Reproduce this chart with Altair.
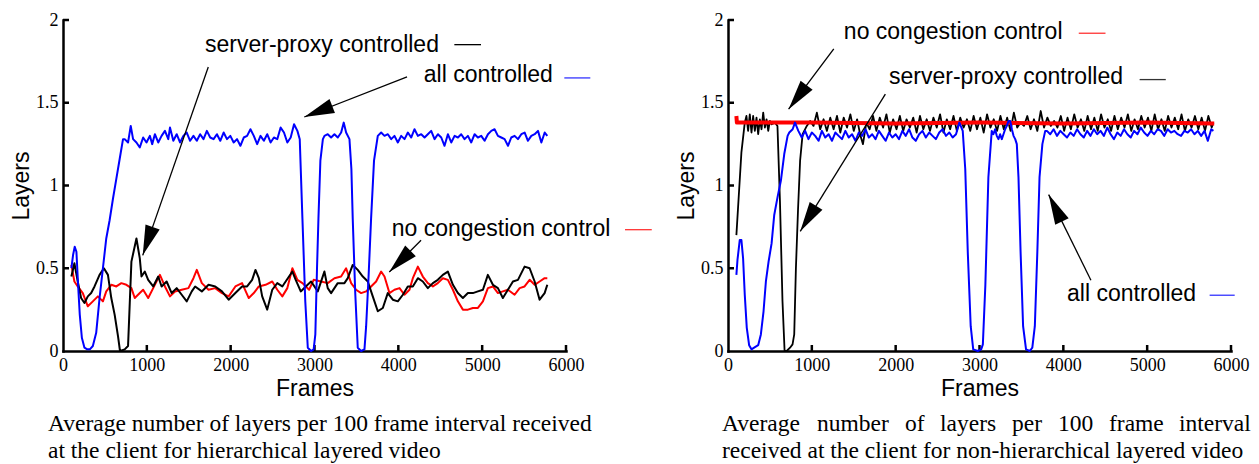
import math
import altair as alt
import pandas as pd

# ---------------- data ----------------
# Left panel: hierarchical layered video
L_BLUE_F = [100, 120, 140, 160, 180, 200, 225, 256, 290, 320,
            356, 396, 436, 476, 516, 556, 596, 636, 676, 716,
            736, 776, 808, 836, 876, 916, 956, 996, 1036, 1064,
            1096, 1136, 1176, 1216, 1256, 1276, 1316, 1356, 1396, 1436,
            1476, 1516, 1556, 1596, 1636, 1676, 1716, 1756, 1796, 1836,
            1876, 1916, 1956, 1996, 2036, 2076, 2116, 2156, 2196, 2236,
            2276, 2316, 2356, 2396, 2436, 2476, 2516, 2556, 2596, 2636,
            2676, 2716, 2756, 2796, 2824, 2856, 2890, 2920, 2960, 2990,
            3010, 3030, 3047, 3070, 3100, 3119, 3158, 3198, 3238, 3278,
            3318, 3349, 3377, 3417, 3440, 3456, 3486, 3516, 3556, 3596,
            3616, 3645, 3675, 3710, 3755, 3795, 3835, 3875, 3915, 3954,
            3994, 4034, 4074, 4114, 4153, 4193, 4233, 4273, 4313, 4352,
            4392, 4432, 4472, 4512, 4551, 4591, 4631, 4671, 4711, 4750,
            4790, 4830, 4870, 4910, 4949, 4989, 5029, 5069, 5109, 5148,
            5188, 5228, 5268, 5308, 5347, 5387, 5427, 5467, 5507, 5546,
            5586, 5626, 5666, 5706, 5746, 5777]
L_BLUE_V = [0.50, 0.58, 0.63, 0.60, 0.40, 0.22, 0.08, 0.02, 0.01, 0.01,
            0.03, 0.11, 0.32, 0.50, 0.68, 0.79, 0.92, 1.04, 1.16, 1.28,
            1.28, 1.26, 1.36, 1.28, 1.26, 1.23, 1.29, 1.26, 1.30, 1.25,
            1.31, 1.26, 1.30, 1.33, 1.28, 1.35, 1.27, 1.31, 1.26, 1.30,
            1.32, 1.27, 1.30, 1.27, 1.31, 1.28, 1.33, 1.29, 1.28, 1.31,
            1.27, 1.32, 1.28, 1.30, 1.26, 1.28, 1.24, 1.29, 1.30, 1.34,
            1.30, 1.25, 1.30, 1.27, 1.31, 1.26, 1.29, 1.28, 1.35, 1.32,
            1.26, 1.29, 1.37, 1.33, 1.28, 0.80, 0.30, 0.02, 0.00, 0.01,
            0.10, 0.50, 0.80, 1.15, 1.28, 1.30, 1.31, 1.29, 1.31, 1.29,
            1.32, 1.38, 1.32, 1.28, 1.10, 0.80, 0.35, 0.02, 0.00, 0.01,
            0.15, 0.45, 0.80, 1.15, 1.30, 1.32, 1.30, 1.31, 1.28, 1.30,
            1.26, 1.30, 1.28, 1.32, 1.29, 1.34, 1.30, 1.31, 1.29, 1.31,
            1.33, 1.28, 1.31, 1.29, 1.24, 1.31, 1.26, 1.30, 1.29, 1.31,
            1.28, 1.30, 1.26, 1.31, 1.29, 1.30, 1.27, 1.31, 1.33, 1.34,
            1.30, 1.29, 1.28, 1.24, 1.29, 1.30, 1.28, 1.31, 1.32, 1.27,
            1.30, 1.31, 1.33, 1.26, 1.32, 1.30]

L_BLACK_F = [100, 136, 176, 216, 256, 296, 336, 376, 436, 488,
             536, 576, 616, 656, 680, 736, 776, 816, 876, 916,
             936, 976, 1016, 1076, 1136, 1176, 1236, 1296, 1356, 1416,
             1476, 1536, 1576, 1656, 1736, 1816, 1896, 1976, 2056, 2136,
             2196, 2256, 2296, 2336, 2376, 2436, 2496, 2556, 2616, 2696,
             2736, 2776, 2836, 2896, 2959, 3039, 3118, 3158, 3198, 3277,
             3357, 3397, 3456, 3516, 3576, 3636, 3695, 3755, 3815, 3874,
             3934, 3994, 4054, 4113, 4173, 4233, 4292, 4352, 4412, 4471,
             4531, 4591, 4651, 4710, 4770, 4830, 4889, 4949, 5009, 5068,
             5128, 5188, 5247, 5307, 5367, 5427, 5506, 5566, 5626, 5685,
             5745, 5777]
L_BLACK_V = [0.45, 0.53, 0.42, 0.32, 0.29, 0.33, 0.35, 0.39, 0.46, 0.50,
             0.46, 0.32, 0.22, 0.09, 0.00, 0.01, 0.03, 0.54, 0.68, 0.56,
             0.45, 0.48, 0.43, 0.39, 0.45, 0.39, 0.42, 0.35, 0.38, 0.34,
             0.30, 0.36, 0.39, 0.36, 0.40, 0.39, 0.36, 0.31, 0.35, 0.39,
             0.39, 0.43, 0.49, 0.44, 0.33, 0.25, 0.37, 0.41, 0.39, 0.45,
             0.48, 0.43, 0.36, 0.39, 0.42, 0.36, 0.48, 0.38, 0.35, 0.41,
             0.41, 0.44, 0.52, 0.49, 0.45, 0.42, 0.33, 0.24, 0.26, 0.35,
             0.31, 0.30, 0.34, 0.39, 0.39, 0.44, 0.42, 0.38, 0.41, 0.43,
             0.46, 0.48, 0.40, 0.35, 0.32, 0.35, 0.35, 0.36, 0.37, 0.46,
             0.40, 0.38, 0.32, 0.37, 0.42, 0.43, 0.51, 0.50, 0.42, 0.31,
             0.35, 0.40]

L_RED_F = [100, 136, 176, 236, 296, 356, 416, 476, 516, 576,
           636, 696, 756, 816, 856, 916, 956, 1016, 1076, 1156,
           1216, 1276, 1336, 1416, 1496, 1556, 1596, 1656, 1736, 1816,
           1896, 1976, 2056, 2136, 2216, 2276, 2336, 2416, 2496, 2556,
           2616, 2676, 2736, 2796, 2856, 2936, 2990, 3078, 3158, 3238,
           3317, 3377, 3437, 3496, 3556, 3616, 3675, 3735, 3795, 3835,
           3894, 3954, 4014, 4073, 4133, 4173, 4233, 4292, 4352, 4412,
           4471, 4531, 4591, 4651, 4710, 4770, 4830, 4889, 4949, 5009,
           5068, 5128, 5188, 5247, 5307, 5387, 5447, 5506, 5566, 5626,
           5685, 5745, 5777]
L_RED_V = [0.52, 0.42, 0.39, 0.35, 0.27, 0.30, 0.33, 0.30, 0.36, 0.40,
           0.39, 0.41, 0.40, 0.38, 0.32, 0.35, 0.37, 0.32, 0.38, 0.46,
           0.39, 0.33, 0.36, 0.37, 0.38, 0.44, 0.49, 0.41, 0.37, 0.38,
           0.35, 0.33, 0.39, 0.41, 0.32, 0.35, 0.39, 0.40, 0.42, 0.37,
           0.33, 0.38, 0.50, 0.43, 0.41, 0.37, 0.43, 0.42, 0.41, 0.44,
           0.45, 0.50, 0.41, 0.37, 0.35, 0.36, 0.39, 0.42, 0.48, 0.45,
           0.35, 0.37, 0.38, 0.34, 0.37, 0.44, 0.51, 0.45, 0.41, 0.39,
           0.41, 0.44, 0.43, 0.37, 0.30, 0.25, 0.25, 0.26, 0.26, 0.30,
           0.38, 0.39, 0.35, 0.36, 0.37, 0.34, 0.38, 0.39, 0.43, 0.40,
           0.42, 0.44, 0.44]

# Right panel: non-hierarchical layered video
R_RED_F = [100, 106, 1000, 2000, 3000, 4000, 5000, 5800]
R_RED_V = [1.42, 1.38, 1.38, 1.375, 1.38, 1.375, 1.38, 1.375]

R_BLACK_F = [100, 130, 160, 200, 220, 240, 260, 280, 300, 320,
             340, 360, 380, 400, 420, 440, 460, 480, 500, 520,
             560, 590, 620, 650, 675, 700, 740, 770, 790, 810,
             835, 860, 890, 940, 980, 1020, 1060, 1100, 1140, 1180,
             1220, 1260, 1300, 1340, 1380, 1420, 1460, 1500, 1540, 1580,
             1610, 1650, 1690, 1730, 1770, 1810, 1850, 1890, 1930, 1970,
             2010, 2050, 2090, 2130, 2170, 2210, 2250, 2290, 2330, 2370,
             2410, 2450, 2490, 2530, 2570, 2610, 2650, 2690, 2730, 2770,
             2810, 2850, 2890, 2930, 2970, 3010, 3050, 3090, 3130, 3170,
             3210, 3250, 3290, 3330, 3370, 3410, 3450, 3490, 3530, 3570,
             3610, 3650, 3690, 3730, 3770, 3810, 3850, 3890, 3930, 3970,
             4010, 4050, 4090, 4130, 4170, 4210, 4250, 4290, 4330, 4370,
             4410, 4450, 4490, 4530, 4570, 4610, 4650, 4690, 4730, 4770,
             4810, 4850, 4890, 4930, 4970, 5010, 5050, 5090, 5130, 5170,
             5210, 5250, 5290, 5330, 5370, 5410, 5450, 5490, 5530, 5570,
             5610, 5650, 5690, 5730, 5770, 5790]
R_BLACK_V = [0.70, 0.95, 1.20, 1.38, 1.42, 1.33, 1.43, 1.32, 1.42, 1.33,
             1.41, 1.31, 1.40, 1.34, 1.44, 1.35, 1.40, 1.33, 1.39, 1.37,
             1.38, 1.36, 0.90, 0.30, 0.00, 0.00, 0.02, 0.04, 0.10, 0.50,
             0.85, 1.15, 1.31, 1.36, 1.39, 1.36, 1.44, 1.34, 1.40, 1.33,
             1.41, 1.34, 1.42, 1.32, 1.41, 1.35, 1.43, 1.33, 1.40, 1.30,
             1.25, 1.38, 1.34, 1.42, 1.33, 1.41, 1.35, 1.43, 1.32, 1.40,
             1.34, 1.42, 1.33, 1.40, 1.35, 1.41, 1.32, 1.42, 1.34, 1.40,
             1.33, 1.41, 1.35, 1.43, 1.32, 1.40, 1.34, 1.42, 1.33, 1.41,
             1.35, 1.40, 1.33, 1.42, 1.34, 1.41, 1.32, 1.43, 1.35, 1.40,
             1.33, 1.42, 1.34, 1.41, 1.33, 1.44, 1.35, 1.38, 1.36, 1.42,
             1.34, 1.40, 1.33, 1.45, 1.35, 1.41, 1.36, 1.39, 1.35, 1.42,
             1.33, 1.41, 1.34, 1.43, 1.35, 1.40, 1.33, 1.42, 1.34, 1.41,
             1.33, 1.43, 1.35, 1.40, 1.33, 1.42, 1.34, 1.41, 1.35, 1.43,
             1.33, 1.40, 1.34, 1.42, 1.35, 1.41, 1.33, 1.43, 1.34, 1.40,
             1.33, 1.42, 1.35, 1.41, 1.34, 1.43, 1.33, 1.40, 1.35, 1.42,
             1.34, 1.41, 1.33, 1.42, 1.35, 1.38]

R_BLUE_F = [100, 113, 140, 160, 180, 200, 224, 252, 280, 312,
            360, 392, 424, 452, 484, 520, 551, 591, 631, 671,
            711, 731, 771, 799, 839, 880, 920, 960, 1000, 1040,
            1080, 1120, 1160, 1200, 1240, 1280, 1320, 1360, 1400, 1440,
            1480, 1520, 1560, 1600, 1640, 1680, 1720, 1760, 1800, 1840,
            1880, 1920, 1960, 2000, 2040, 2080, 2120, 2160, 2200, 2240,
            2280, 2320, 2360, 2400, 2440, 2480, 2520, 2560, 2600, 2640,
            2680, 2720, 2760, 2800, 2830, 2860, 2895, 2925, 2980, 3020,
            3040, 3070, 3106, 3146, 3166, 3186, 3206, 3226, 3246, 3266,
            3286, 3306, 3326, 3346, 3366, 3386, 3406, 3426, 3445, 3465,
            3490, 3520, 3555, 3600, 3630, 3660, 3690, 3716, 3750, 3784,
            3804, 3844, 3884, 3924, 3964, 4004, 4044, 4084, 4124, 4164,
            4204, 4244, 4284, 4324, 4364, 4404, 4444, 4484, 4524, 4564,
            4604, 4644, 4684, 4724, 4764, 4804, 4844, 4884, 4924, 4964,
            5004, 5044, 5084, 5124, 5164, 5204, 5244, 5284, 5324, 5364,
            5404, 5444, 5484, 5524, 5564, 5604, 5644, 5684, 5724, 5764,
            5790]
R_BLUE_V = [0.46, 0.55, 0.67, 0.67, 0.56, 0.34, 0.14, 0.035, 0.01, 0.02,
            0.035, 0.10, 0.24, 0.42, 0.54, 0.65, 0.82, 0.93, 1.03, 1.19,
            1.30, 1.32, 1.34, 1.38, 1.33, 1.29, 1.33, 1.28, 1.32, 1.30,
            1.27, 1.33, 1.29, 1.31, 1.27, 1.32, 1.30, 1.28, 1.33, 1.29,
            1.31, 1.27, 1.32, 1.30, 1.34, 1.29, 1.31, 1.28, 1.33, 1.30,
            1.27, 1.32, 1.29, 1.31, 1.28, 1.33, 1.30, 1.34, 1.29, 1.27,
            1.31, 1.33, 1.29, 1.32, 1.30, 1.28, 1.32, 1.34, 1.30, 1.32,
            1.29, 1.31, 1.38, 1.33, 1.10, 0.60, 0.15, 0.01, 0.00, 0.01,
            0.04, 0.40, 1.05, 1.33, 1.31, 1.34, 1.30, 1.28, 1.31, 1.28,
            1.31, 1.34, 1.36, 1.39, 1.39, 1.34, 1.30, 1.28, 1.25, 1.05,
            0.60, 0.15, 0.01, 0.00, 0.02, 0.15, 0.60, 1.05, 1.25, 1.33,
            1.33, 1.31, 1.34, 1.30, 1.33, 1.31, 1.29, 1.32, 1.30, 1.34,
            1.31, 1.29, 1.33, 1.30, 1.34, 1.31, 1.33, 1.30, 1.35, 1.31,
            1.28, 1.32, 1.30, 1.34, 1.31, 1.29, 1.33, 1.31, 1.35, 1.32,
            1.30, 1.33, 1.31, 1.34, 1.33, 1.30, 1.34, 1.32, 1.33, 1.31,
            1.30, 1.33, 1.32, 1.34, 1.31, 1.33, 1.30, 1.33, 1.27, 1.34,
            1.33]

# Axis ticks
X_TICK_VALUES = [0, 1000, 2000, 3000, 4000, 5000, 6000]
Y_TICK_VALUES = [0, 0.5, 1, 1.5, 2]

# Annotation labels (data units: frames, layers)
L_NOTE_TEXT = ["server-proxy controlled", "all controlled", "no congestion control"]
L_NOTE_F = [1694, 4303, 3921]
L_NOTE_V = [1.849, 1.668, 0.739]
L_KEY_F1 = [4668, 5980, 6704]
L_KEY_F2 = [4986, 6290, 7023]
L_KEY_V = [1.851, 1.650, 0.733]
L_KEY_COLOR = ["black", "#3333ff", "#ff3333"]
L_ARROW_F1 = [1733, 4104, 4271]
L_ARROW_V1 = [1.716, 1.656, 0.669]
L_ARROW_F2 = [951, 2878, 3892]
L_ARROW_V2 = [0.578, 1.414, 0.477]

R_NOTE_TEXT = ["no congestion control", "server-proxy controlled", "all controlled"]
R_NOTE_F = [1382, 1921, 4044]
R_NOTE_V = [1.927, 1.654, 0.343]
R_KEY_F1 = [4184, 4910, 5745]
R_KEY_F2 = [4503, 5222, 6044]
R_KEY_V = [1.920, 1.640, 0.337]
R_KEY_COLOR = ["#ff3333", "#333333", "#3333ff"]
R_ARROW_F1 = [1262, 1877, 4329]
R_ARROW_V1 = [1.825, 1.552, 0.428]
R_ARROW_F2 = [723, 862, 3825]
R_ARROW_V2 = [1.461, 0.723, 0.945]

# Captions
L_CAPTION = ["Average number of layers per 100 frame interval received",
             "at the client for hierarchical layered video"]
R_CAPTION_WORDS = ["Average", "number", "of", "layers", "per", "100", "frame", "interval"]
R_CAPTION_LINE2 = "received at the client for non-hierarchical layered video"

# ---------------- layout / style ----------------
W, H = 503, 331
X_MAX, Y_MAX = 6000, 2
SPACING = 162
SANS = "Liberation Sans"
SERIF = "Liberation Serif"
TICK_LEN = 6
CAP_SIZE = 23.5
NOTE_SIZE = 23
CAP_Y = [411, 438]              # baselines, px below plot top
L_CAP_X = -15                   # px from plot left
R_CAP_WORD_X = [-6, 89, 177, 212, 284, 330, 381, 451]
ARROW_PATH = "M0,0L-0.5,2L0.5,2Z"

X_SCALE = alt.Scale(domain=[0, X_MAX], nice=False, zero=False)
Y_SCALE = alt.Scale(domain=[0, Y_MAX], nice=False, zero=False)
AXIS_COMMON = dict(grid=False, ticks=False, domainColor="black", domainWidth=2.5,
                   domainCap="square", labelFont=SERIF, labelFontSize=18,
                   labelColor="black", labelFlush=False, labelOverlap=False,
                   titleFont=SANS, titleFontSize=23, titleFontWeight="normal",
                   titleColor="black")
X_AXIS = alt.Axis(title="Frames", values=X_TICK_VALUES, format="d",
                  labelPadding=5, titlePadding=3, **AXIS_COMMON)
Y_AXIS = alt.Axis(title="Layers", values=Y_TICK_VALUES, format="~g",
                  labelPadding=5, titlePadding=2, **AXIS_COMMON)


def X(field="frame"):
    return alt.X(f"{field}:Q", scale=X_SCALE, axis=X_AXIS)


def Y(field="layers"):
    return alt.Y(f"{field}:Q", scale=Y_SCALE, axis=Y_AXIS)


def px_to_frame(px):
    return px * X_MAX / W


def px_to_layers(py):
    return Y_MAX - py * Y_MAX / H


def arrow_angle(f1, v1, f2, v2):
    dx = (f2 - f1) * W / X_MAX
    dy = -(v2 - v1) * H / Y_MAX
    return math.degrees(math.atan2(dx, -dy)) % 360


def panel(series, note_text, note_f, note_v, key_f1, key_f2, key_v, key_color,
          af1, av1, af2, av2, caption_df):
    layers = []
    xt = pd.DataFrame({"frame": X_TICK_VALUES[1:]})
    layers.append(alt.Chart(xt).mark_rule(color="black", strokeWidth=2.5).encode(
        x=X(), y=alt.value(H), y2=alt.value(H - TICK_LEN)))
    yt = pd.DataFrame({"layers": Y_TICK_VALUES[1:]})
    layers.append(alt.Chart(yt).mark_rule(color="black", strokeWidth=2.5).encode(
        y=Y(), x=alt.value(0), x2=alt.value(TICK_LEN)))
    for f, v, color, sw in series:
        df = pd.DataFrame({"frame": f, "layers": v})
        layers.append(alt.Chart(df).mark_line(color=color, strokeWidth=sw,
                                              strokeJoin="round").encode(x=X(), y=Y()))
    notes = pd.DataFrame({"label": note_text, "frame": note_f, "layers": note_v})
    layers.append(alt.Chart(notes).mark_text(align="left", baseline="middle", font=SANS,
                                             fontSize=NOTE_SIZE, color="black").encode(
        x=X(), y=Y(), text="label:N"))
    keys = pd.DataFrame({"frame": key_f1, "frame2": key_f2, "layers": key_v, "color": key_color})
    layers.append(alt.Chart(keys).mark_rule(strokeWidth=1.3).encode(
        x=X(), x2=alt.X2("frame2:Q"), y=Y(), color=alt.Color("color:N", scale=None)))
    arrows = pd.DataFrame({"frame": af1, "layers": av1, "frame2": af2, "layers2": av2})
    layers.append(alt.Chart(arrows).mark_rule(strokeWidth=1.3, color="black").encode(
        x=X(), y=Y(), x2=alt.X2("frame2:Q"), y2=alt.Y2("layers2:Q")))
    heads = pd.DataFrame({"frame": af2, "layers": av2,
                          "angle": [arrow_angle(a, b, c, d) for a, b, c, d in zip(af1, av1, af2, av2)]})
    layers.append(alt.Chart(heads).mark_point(shape=ARROW_PATH, filled=True, size=900,
                                              color="black", opacity=1, strokeWidth=0).encode(
        x=X(), y=Y(), angle=alt.Angle("angle:Q", scale=None)))
    layers.append(alt.Chart(caption_df).mark_text(align="left", baseline="alphabetic", font=SERIF,
                                                  fontSize=CAP_SIZE, color="black").encode(
        x=X(), y=Y(), text="label:N"))
    return alt.layer(*layers).properties(width=W, height=H)


left_caption = pd.DataFrame({
    "label": L_CAPTION,
    "frame": [px_to_frame(L_CAP_X)] * 2,
    "layers": [px_to_layers(CAP_Y[0]), px_to_layers(CAP_Y[1])],
})
right_caption = pd.DataFrame({
    "label": R_CAPTION_WORDS + [R_CAPTION_LINE2],
    "frame": [px_to_frame(x) for x in R_CAP_WORD_X] + [px_to_frame(R_CAP_WORD_X[0])],
    "layers": [px_to_layers(CAP_Y[0])] * len(R_CAPTION_WORDS) + [px_to_layers(CAP_Y[1])],
})

left = panel([(L_RED_F, L_RED_V, "#ff0000", 2.0),
              (L_BLACK_F, L_BLACK_V, "#000000", 2.0),
              (L_BLUE_F, L_BLUE_V, "#0000ff", 2.0)],
             L_NOTE_TEXT, L_NOTE_F, L_NOTE_V, L_KEY_F1, L_KEY_F2, L_KEY_V, L_KEY_COLOR,
             L_ARROW_F1, L_ARROW_V1, L_ARROW_F2, L_ARROW_V2, left_caption)

right = panel([(R_BLACK_F, R_BLACK_V, "#000000", 1.8),
               (R_RED_F, R_RED_V, "#ff0000", 4.0),
               (R_BLUE_F, R_BLUE_V, "#0000ff", 2.0)],
              R_NOTE_TEXT, R_NOTE_F, R_NOTE_V, R_KEY_F1, R_KEY_F2, R_KEY_V, R_KEY_COLOR,
              R_ARROW_F1, R_ARROW_V1, R_ARROW_F2, R_ARROW_V2, right_caption)

chart = alt.hconcat(left, right, spacing=SPACING, bounds="flush").properties(
    padding={"left": 2, "top": 3, "right": 0, "bottom": 0}
).configure_view(stroke=None)

chart.save("out.html", embed_options={"renderer": "svg", "actions": False})
